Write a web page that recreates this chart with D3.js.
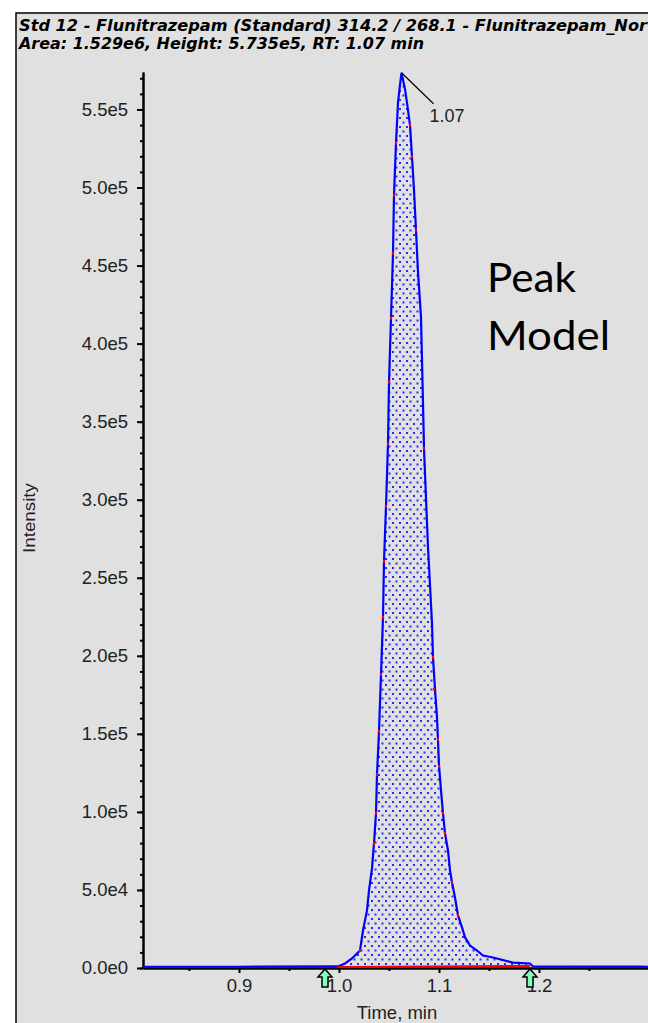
<!DOCTYPE html>
<html>
<head>
<meta charset="utf-8">
<script src="https://cdn.jsdelivr.net/npm/d3@7"></script>
<style>
  body { margin: 0; background: #fff; }
  svg { display: block; }
</style>
</head>
<body>
<div id="chart"></div>
<script>
// peak model trace (time in min, intensity in cps)
const traceTimes = [0.804, 0.9, 0.999, 1.006, 1.013, 1.018, 1.021, 1.024, 1.028, 1.030, 1.033, 1.035,
    1.037, 1.038, 1.040, 1.042, 1.044, 1.045, 1.047, 1.049, 1.050, 1.052, 1.054, 1.055, 1.057, 1.059,
    1.061, 1.0625, 1.066, 1.068, 1.071, 1.073, 1.075, 1.077, 1.079, 1.082, 1.083, 1.084, 1.085, 1.087,
    1.089, 1.091, 1.093, 1.094, 1.096, 1.098, 1.099, 1.100, 1.102, 1.104, 1.106, 1.109, 1.111, 1.113,
    1.116, 1.119, 1.123, 1.126, 1.131, 1.138, 1.144, 1.154, 1.174, 1.191, 1.194, 1.26, 1.3, 1.309];
const traceValues = [800, 800, 1000, 2900, 6100, 9300, 11200, 24000, 36900, 49700, 63800, 79800,
    99000, 124000, 151600, 188100, 224700, 260600, 295800, 335600, 375300, 416300, 458000, 495200, 528500, 554200,
    565700, 573500, 563000, 554200, 540000, 519600, 498400, 472700, 445800, 417000, 389400, 361800, 333000, 301000,
    269500, 245200, 220800, 199000, 178600, 160600, 145800, 129800, 113800, 99000, 86200, 75300, 62500, 54800,
    45200, 33700, 26000, 19600, 14400, 11200, 8000, 6700, 3500, 2900, 1000, 900, 900, 800];

// raw data points (red)
const rawTimes = [1.021, 1.035, 1.037, 1.038, 1.040, 1.042, 1.044, 1.045, 1.047, 1.049, 1.050, 1.052, 1.054,
    1.055, 1.057, 1.071, 1.073, 1.077, 1.085, 1.094, 1.095, 1.099, 1.100, 1.104, 1.106, 1.113, 1.119];
const rawValues = [11200, 79800, 99200, 124000, 151600, 188100, 224700, 260600, 295800, 335600, 375300, 416300, 458000,
    495200, 528500, 540000, 519600, 472700, 333000, 199000, 178600, 146500, 129200, 99200, 86300, 54900, 33700];

// integration start / end and baseline
const integTimes = [0.999, 1.191];
const integValues = [700, 1300];
const markerTimes = [0.986, 1.191];

const yMajor = [0, 5e4, 1e5, 1.5e5, 2e5, 2.5e5, 3e5, 3.5e5, 4e5, 4.5e5, 5e5, 5.5e5];
const xMajor = [0.9, 1.0, 1.1, 1.2];
const xMinor = [0.85, 0.95, 1.05, 1.15, 1.25];

const apexTime = 1.0625, apexValue = 573500, apexLabel = "1.07";
const titleLines = ["Std 12 - Flunitrazepam (Standard) 314.2 / 268.1 - Flunitrazepam_Nor",
    "Area: 1.529e6, Height: 5.735e5, RT: 1.07 min"];

const W = 648, H = 1023;
const svg = d3.select("#chart").append("svg")
    .attr("width", W)
    .attr("height", H);

const defs = svg.append("defs");
const pat = defs.append("pattern")
    .attr("id", "dots")
    .attr("patternUnits", "userSpaceOnUse")
    .attr("width", 7)
    .attr("height", 9);
pat.append("rect").attr("x", 0).attr("y", 0).attr("width", 2).attr("height", 2).attr("fill", "#2a2aff");
pat.append("rect").attr("x", 3.5).attr("y", 4.5).attr("width", 2).attr("height", 2).attr("fill", "#2a2aff");

defs.append("clipPath").attr("id", "plotclip")
    .append("rect").attr("x", 143).attr("y", 60).attr("width", W - 143).attr("height", 915);

// panel
svg.append("rect")
    .attr("x", 16).attr("y", 13)
    .attr("width", W).attr("height", H)
    .attr("fill", "#e0e0e0")
    .attr("stroke", "#000")
    .attr("stroke-width", 1.5);

// title
svg.selectAll(".title")
    .data(titleLines)
    .join("text")
    .attr("class", "title")
    .attr("x", 19)
    .attr("y", (d, i) => 31 + i * 18)
    .attr("textLength", (d, i) => i === 0 ? 628 : 405)
    .attr("lengthAdjust", "spacingAndGlyphs")
    .style("font", "italic bold 16.5px 'Liberation Sans Narrow', 'DejaVu Sans Condensed', sans-serif")
    .text(d => d);

// scales
const x = d3.scaleLinear().domain([0.804, 1.309]).range([143, 648]);
const y = d3.scaleLinear().domain([0, 5.74e5]).range([968, 72]);

const expFmt = d => {
    const e = d === 0 ? 0 : Math.floor(Math.log10(d));
    return (d / Math.pow(10, e)).toFixed(1) + "e" + e;
};

// y axis
const yMinor = d3.range(0, 5.71e5, 1e4);
svg.append("g")
    .attr("transform", "translate(143,0)")
    .call(d3.axisLeft(y).tickValues(yMinor).tickSize(3).tickSizeOuter(0).tickFormat(""))
    .call(g => g.selectAll("line, path").attr("stroke", "#000").attr("stroke-width", 2));
const yAx = svg.append("g")
    .attr("transform", "translate(143,0)")
    .call(d3.axisLeft(y).tickValues(yMajor).tickSize(6).tickSizeOuter(0).tickPadding(9).tickFormat(expFmt));
yAx.select(".domain").attr("stroke-width", 2);
yAx.selectAll("line").attr("stroke-width", 2);
yAx.selectAll("text").attr("fill", "#222").style("font", "18.5px 'Liberation Sans', Arial, sans-serif");

// x axis
svg.append("g")
    .attr("transform", "translate(0,968)")
    .call(d3.axisBottom(x).tickValues(xMinor).tickSize(3).tickSizeOuter(0).tickFormat(""))
    .call(g => g.selectAll("line, path").attr("stroke", "#000").attr("stroke-width", 2));
const xAx = svg.append("g")
    .attr("transform", "translate(0,968)")
    .call(d3.axisBottom(x).tickValues(xMajor).tickSize(5).tickSizeOuter(0).tickPadding(6).tickFormat(d3.format(".1f")));
xAx.select(".domain").attr("stroke-width", 2);
xAx.selectAll("line").attr("stroke-width", 2);
xAx.selectAll("text").attr("fill", "#222").style("font", "18.5px 'Liberation Sans', Arial, sans-serif");

// axis titles
svg.append("text")
    .attr("x", 397)
    .attr("y", 1019)
    .attr("text-anchor", "middle")
    .attr("fill", "#222")
    .style("font", "18.5px 'Liberation Sans', Arial, sans-serif")
    .text("Time, min");

svg.append("text")
    .attr("transform", "translate(35,518) rotate(-90)")
    .attr("text-anchor", "middle")
    .attr("fill", "#222")
    .attr("textLength", 70)
    .attr("lengthAdjust", "spacingAndGlyphs")
    .style("font", "16px 'Liberation Sans Narrow', 'Liberation Sans', sans-serif")
    .text("Intensity");

// trace
const trace = traceTimes.map((t, i) => ({t: t, v: traceValues[i]}));
const peak = trace.filter(d => d.t >= integTimes[0] && d.t <= integTimes[1] + 0.004);
const plot = svg.append("g").attr("clip-path", "url(#plotclip)");

const baseAt = t => integValues[0] + (t - integTimes[0]) / (integTimes[1] - integTimes[0]) * (integValues[1] - integValues[0]);

plot.append("path")
    .datum(peak)
    .attr("fill", "url(#dots)")
    .attr("d", d3.area().x(d => x(d.t)).y0(d => y(baseAt(d.t))).y1(d => y(d.v)));

plot.append("path")
    .datum(trace)
    .attr("fill", "none")
    .attr("stroke", "#0000ff")
    .attr("stroke-width", 2.2)
    .attr("d", d3.line().x(d => x(d.t)).y(d => y(d.v)));

// integration baseline
plot.append("line")
    .attr("x1", x(integTimes[0])).attr("y1", y(integValues[0]))
    .attr("x2", x(integTimes[1])).attr("y2", y(integValues[1]))
    .attr("stroke", "#ff0000")
    .attr("stroke-width", 2);

// raw points
plot.selectAll(".raw")
    .data(rawTimes.map((t, i) => ({t: t, v: rawValues[i]})))
    .join("rect")
    .attr("class", "raw")
    .attr("x", d => x(d.t) - 1)
    .attr("y", d => y(d.v) - 1.5)
    .attr("width", 2)
    .attr("height", 3)
    .attr("fill", "#ff0000");

// apex label
const ax = x(apexTime), ay = y(apexValue);
svg.append("line")
    .attr("x1", ax).attr("y1", ay)
    .attr("x2", ax + 32).attr("y2", ay + 31)
    .attr("stroke", "#000")
    .attr("stroke-width", 1.2);
svg.append("text")
    .attr("x", ax + 28)
    .attr("y", ay + 49)
    .attr("fill", "#222")
    .style("font", "18px 'Liberation Sans', Arial, sans-serif")
    .text(apexLabel);

// start / end markers
svg.selectAll(".marker")
    .data(markerTimes)
    .join("path")
    .attr("class", "marker")
    .attr("transform", d => `translate(${x(d)},969)`)
    .attr("d", "M0,0 L7,8 L3,8 L3,18 L-3,18 L-3,8 L-7,8 Z")
    .attr("fill", "#80ffb8")
    .attr("stroke", "#000")
    .attr("stroke-width", 1.5);

// annotation
svg.selectAll(".note")
    .data(["Peak", "Model"])
    .join("text")
    .attr("class", "note")
    .attr("x", 487)
    .attr("y", (d, i) => 292 + i * 58)
    .attr("textLength", (d, i) => i === 0 ? 89 : 123)
    .attr("lengthAdjust", "spacingAndGlyphs")
    .style("font", "41px Lato, 'Open Sans', sans-serif")
    .attr("fill", "#000")
    .text(d => d);
</script>
</body>
</html>
